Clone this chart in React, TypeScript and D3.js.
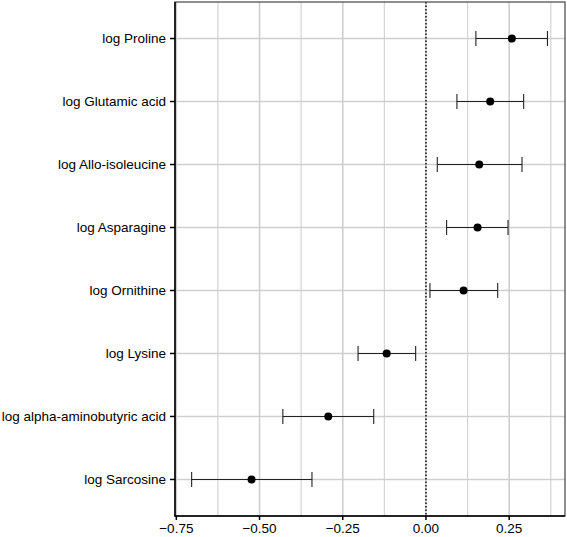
import React from "react";
import * as d3 from "d3";

const categories = [
  "log Proline",
  "log Glutamic acid",
  "log Allo-isoleucine",
  "log Asparagine",
  "log Ornithine",
  "log Lysine",
  "log alpha-aminobutyric acid",
  "log Sarcosine",
];
const estimates = [0.258, 0.193, 0.16, 0.155, 0.113, -0.118, -0.2935, -0.524];
const lowers = [0.15, 0.093, 0.034, 0.062, 0.012, -0.204, -0.43, -0.704];
const uppers = [0.365, 0.2935, 0.2885, 0.2465, 0.2155, -0.031, -0.157, -0.3425];
const xTicks = [-0.75, -0.5, -0.25, 0, 0.25];
const xMinor = [-0.625, -0.375, -0.125, 0.125, 0.375];

const W = 567;
const H = 537;
const left = 175;
const right = 565;
const top = 2;
const bottom = 516;

export default function App() {
  const x = d3.scaleLinear().domain([-0.754, 0.4177]).range([left, right]);
  const y = d3
    .scalePoint<string>()
    .domain(categories)
    .range([top, bottom])
    .padding(0.58);
  const font = "'Liberation Sans', Arial, Helvetica, sans-serif";
  const fmt = d3.format(".2f");
  return (
    <svg
      width={W}
      height={H}
      style={{ position: "absolute", left: 0, top: 0, background: "#fff" }}
    >
      <rect x={left} y={top} width={right - left} height={bottom - top} fill="#fff" />
      {xMinor.map((v) => (
        <line key={"mn" + v} x1={x(v)} x2={x(v)} y1={top} y2={bottom} stroke="#d4d4d4" strokeWidth={1.2} />
      ))}
      {xTicks.map((v) => (
        <line key={"mj" + v} x1={x(v)} x2={x(v)} y1={top} y2={bottom} stroke="#cfcfcf" strokeWidth={1.6} />
      ))}
      {categories.map((c) => (
        <line key={"hg" + c} x1={left} x2={right} y1={y(c)} y2={y(c)} stroke="#cfcfcf" strokeWidth={1.6} />
      ))}
      <line x1={x(0)} x2={x(0)} y1={top} y2={bottom} stroke="#000" strokeWidth={1.4} strokeDasharray="1.5,2" />
      {categories.map((c, i) => {
        const cy = y(c) as number;
        return (
          <g key={"e" + c}>
            <line x1={x(lowers[i])} x2={x(uppers[i])} y1={cy} y2={cy} stroke="#222" strokeWidth={1.1} />
            <line x1={x(lowers[i])} x2={x(lowers[i])} y1={cy - 7.5} y2={cy + 7.5} stroke="#222" strokeWidth={1.1} />
            <line x1={x(uppers[i])} x2={x(uppers[i])} y1={cy - 7.5} y2={cy + 7.5} stroke="#222" strokeWidth={1.1} />
            <circle cx={x(estimates[i])} cy={cy} r={4} fill="#000" />
          </g>
        );
      })}
      <rect x={left} y={top} width={right - left} height={bottom - top} fill="none" stroke="#444" strokeWidth={1.2} />
      <line x1={left} x2={left} y1={top} y2={bottom + 0.5} stroke="#000" strokeWidth={1.5} />
      <line x1={left - 0.5} x2={right} y1={bottom} y2={bottom} stroke="#000" strokeWidth={1.5} />
      {categories.map((c) => (
        <g key={"yl" + c}>
          <line x1={left - 5} x2={left} y1={y(c)} y2={y(c)} stroke="#000" strokeWidth={1.5} />
          <text
            x={left - 9}
            y={(y(c) as number) + 4.8}
            textAnchor="end"
            fontFamily={font}
            fontSize={13.5}
            fill="#000"
          >
            {c}
          </text>
        </g>
      ))}
      {xTicks.map((v) => (
        <g key={"xl" + v}>
          <line x1={x(v)} x2={x(v)} y1={bottom} y2={bottom + 4} stroke="#000" strokeWidth={1.5} />
          <text x={x(v)} y={bottom + 17} textAnchor="middle" fontFamily={font} fontSize={13.5} fill="#000">
            {fmt(v)}
          </text>
        </g>
      ))}
    </svg>
  );
}
